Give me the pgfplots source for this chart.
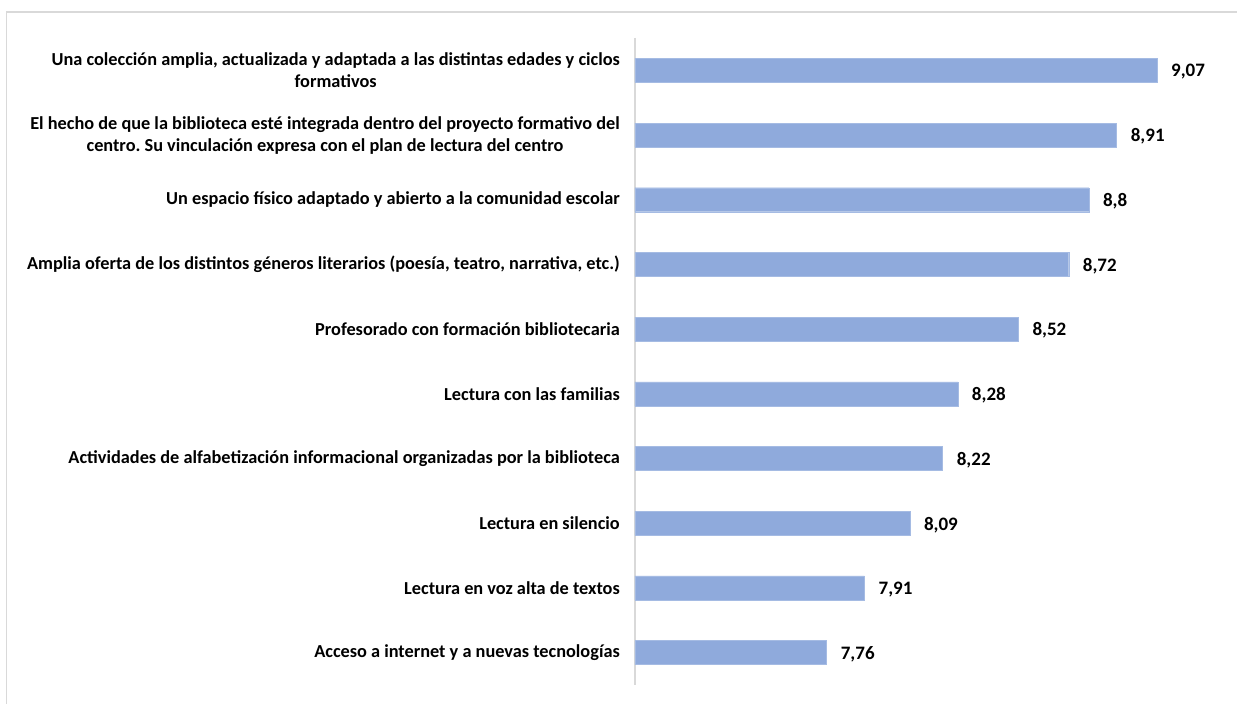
\documentclass[border=0pt]{standalone}
\usepackage{pgfplots}
\pgfplotsset{compat=1.18}
\usepackage{fontspec}
\setmainfont{Carlito}
\frenchspacing
\definecolor{barblue}{HTML}{8FAADC}
\definecolor{linegray}{HTML}{D9D9D9}
\begin{document}
\begin{tikzpicture}[x=1pt,y=1pt]
\path[use as bounding box] (0,0) rectangle (1237,704);
\draw[linegray, line width=1.2pt] (6.5,0) -- (6.5,692) -- (1237,692);
\begin{axis}[
  at={(635pt,19pt)}, anchor=south west,
  scale only axis, width=580pt, height=647pt,
  xbar, xmin=7, xmax=9.3,
  ymin=-0.5, ymax=9.5, y dir=reverse,
  ytick={0,...,9},
  yticklabels={
    {Una colección amplia, actualizada y adaptada a las distintas edades y ciclos\\formativos},
    {El hecho de que la biblioteca esté integrada dentro del proyecto formativo del\\centro. Su vinculación expresa con el plan de lectura del centro},
    {Un espacio físico adaptado y abierto a la comunidad escolar},
    {Amplia oferta de los distintos géneros literarios (poesía, teatro, narrativa, etc.)},
    {Profesorado con formación bibliotecaria},
    {Lectura con las familias},
    {Actividades de alfabetización informacional organizadas por la biblioteca},
    {Lectura en silencio},
    {Lectura en voz alta de textos},
    {Acceso a internet y a nuevas tecnologías}},
  hide x axis,
  axis y line*=left,
  y axis line style={linegray, line width=1.2pt},
  major tick length=0pt,
  yticklabel style={align=center, inner sep=0pt, xshift=-15pt,
    font=\fontsize{18.3}{22}\selectfont\bfseries, text=black},
  bar width=24pt,
  nodes near coords,
  nodes near coords style={anchor=west, xshift=14pt, yshift=-1.5pt, inner sep=0pt,
    font=\fontsize{19}{22}\selectfont\bfseries, text=black,
    /pgf/number format/.cd, use comma, fixed, precision=2, assume math mode=true},
]
\addplot[fill=barblue, draw=barblue!80!white] coordinates {
  (9.07,0) (8.91,1) (8.80,2) (8.72,3) (8.52,4)
  (8.28,5) (8.22,6) (8.09,7) (7.91,8) (7.76,9)
};
\end{axis}
\end{tikzpicture}
\end{document}
